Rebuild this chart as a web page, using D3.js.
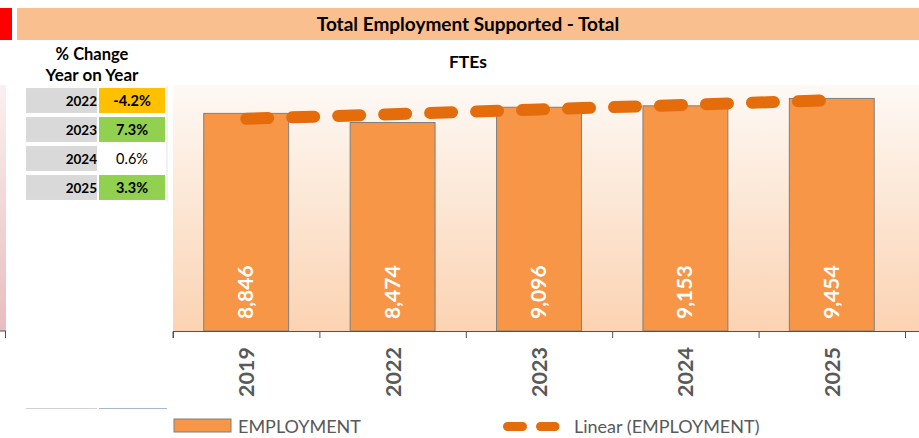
<!DOCTYPE html>
<html>
<head>
<meta charset="utf-8">
<script src="https://cdn.jsdelivr.net/npm/d3@7"></script>
<style>
  body { margin: 0; background: #fff; }
  svg { display: block; font-family: Lato, "Open Sans", sans-serif; }
</style>
</head>
<body>
<div id="chart"></div>
<script>
// Chart data
const years = ["2019", "2022", "2023", "2024", "2025"];
const employment = [8846, 8474, 9096, 9153, 9454];

// % change table
const changeYears = ["2022", "2023", "2024", "2025"];
const changeLabels = ["-4.2%", "7.3%", "0.6%", "3.3%"];
const changeFills = ["#FFC000", "#92D050", "#FFFFFF", "#92D050"];
const changeBold = [true, true, false, true];

const W = 919, H = 438;

const svg = d3.select("#chart")
    .append("svg")
    .attr("width", W)
    .attr("height", H);

const defs = svg.append("defs");

// Plot background gradient
const bg = defs.append("linearGradient")
    .attr("id", "plotBg")
    .attr("x1", 0).attr("y1", 0).attr("x2", 0).attr("y2", 1);
bg.append("stop").attr("offset", "0%").attr("stop-color", "#FEF9F5");
bg.append("stop").attr("offset", "100%").attr("stop-color", "#FBD3B2");

const pink = defs.append("linearGradient")
    .attr("id", "pinkBg")
    .attr("x1", 0).attr("y1", 0).attr("x2", 0).attr("y2", 1);
pink.append("stop").attr("offset", "0%").attr("stop-color", "#FBF0F0");
pink.append("stop").attr("offset", "100%").attr("stop-color", "#E9BDBD");

// Header banner
svg.append("rect")
    .attr("x", 0).attr("y", 8).attr("width", 12).attr("height", 32)
    .attr("fill", "#FF0000");
svg.append("rect")
    .attr("x", 17).attr("y", 8).attr("width", W - 17).attr("height", 32)
    .attr("fill", "#F9BF8F");
svg.append("text")
    .attr("x", 468).attr("y", 31)
    .attr("text-anchor", "middle")
    .attr("font-size", 19).attr("font-weight", "bold")
    .attr("fill", "#000")
    .text("Total Employment Supported - Total");

// Left strip from neighbouring chart
svg.append("rect")
    .attr("x", 0).attr("y", 85).attr("width", 6).attr("height", 246)
    .attr("fill", "url(#pinkBg)");
svg.append("line")
    .attr("x1", 0).attr("x2", 6).attr("y1", 331).attr("y2", 331)
    .attr("stroke", "#44546A");
svg.append("line")
    .attr("x1", 5.5).attr("x2", 5.5).attr("y1", 331).attr("y2", 338)
    .attr("stroke", "#44546A");

// % change table
svg.append("text")
    .attr("x", 92).attr("y", 60)
    .attr("text-anchor", "middle")
    .attr("font-size", 16.5).attr("font-weight", "bold")
    .text("% Change");
svg.append("text")
    .attr("x", 92).attr("y", 81)
    .attr("text-anchor", "middle")
    .attr("font-size", 17).attr("font-weight", "bold")
    .text("Year on Year");

const rowY = d3.scaleBand()
    .domain(changeYears)
    .range([86, 202])
    .paddingInner(0.14)
    .paddingOuter(0.07);

changeYears.forEach((yr, i) => {
    const y = rowY(yr), h = rowY.bandwidth();
    svg.append("rect")
        .attr("x", 26).attr("y", y).attr("width", 71).attr("height", h)
        .attr("fill", "#D9D9D9");
    svg.append("rect")
        .attr("x", 99).attr("y", y).attr("width", 66).attr("height", h)
        .attr("fill", changeFills[i]);
    svg.append("text")
        .attr("x", 97).attr("y", y + h / 2 + 5)
        .attr("text-anchor", "end")
        .attr("font-size", 13.5).attr("font-weight", "bold")
        .text(yr);
    svg.append("text")
        .attr("x", 132).attr("y", y + h / 2 + 5)
        .attr("text-anchor", "middle")
        .attr("font-size", 14.5)
        .attr("font-weight", changeBold[i] ? "bold" : "normal")
        .text(changeLabels[i]);
});
svg.append("line")
    .attr("x1", 167).attr("x2", 167).attr("y1", 86).attr("y2", 202)
    .attr("stroke", "#E4E4E4");
svg.append("line")
    .attr("x1", 26).attr("x2", 97).attr("y1", 408.5).attr("y2", 408.5)
    .attr("stroke", "#D0D0D0");
svg.append("line")
    .attr("x1", 99).attr("x2", 167).attr("y1", 408.5).attr("y2", 408.5)
    .attr("stroke", "#A9B8D0");

// Main chart
const plot = { left: 173, right: 905, top: 85, bottom: 331 };

svg.append("rect")
    .attr("x", plot.left).attr("y", plot.top)
    .attr("width", W - plot.left).attr("height", plot.bottom - plot.top)
    .attr("fill", "url(#plotBg)");

svg.append("text")
    .attr("x", 468).attr("y", 68)
    .attr("text-anchor", "middle")
    .attr("font-size", 17.5).attr("font-weight", "bold")
    .text("FTEs");

const x = d3.scaleBand()
    .domain(years)
    .range([plot.left, plot.right])
    .paddingInner(0.42)
    .paddingOuter(0.21);

const y = d3.scaleLinear()
    .domain([0, 10000])
    .range([plot.bottom, plot.top]);

// Bars
svg.selectAll(".bar")
    .data(years)
    .enter()
    .append("rect")
    .attr("class", "bar")
    .attr("x", d => x(d))
    .attr("y", (d, i) => y(employment[i]))
    .attr("width", x.bandwidth())
    .attr("height", (d, i) => plot.bottom - y(employment[i]))
    .attr("fill", "#F79646")
    .attr("stroke", "#7F7F7F")
    .attr("stroke-width", 1);

// Value labels
svg.selectAll(".val")
    .data(years)
    .enter()
    .append("text")
    .attr("class", "val")
    .attr("transform", d => `translate(${x(d) + x.bandwidth() / 2 + 7},319) rotate(-90)`)
    .attr("font-size", 21).attr("font-weight", "bold")
    .attr("fill", "#fff")
    .text((d, i) => d3.format(",")(employment[i]));

// Linear trendline (least squares over category index)
const idx = employment.map((v, i) => i + 1);
const mx = d3.mean(idx), my = d3.mean(employment);
const slope = d3.sum(idx, (xi, i) => (xi - mx) * (employment[i] - my)) /
              d3.sum(idx, xi => (xi - mx) * (xi - mx));
const icpt = my - slope * mx;
const trend = years.map((d, i) => ({ yr: d, v: icpt + slope * (i + 1) }));

svg.append("path")
    .datum(trend)
    .attr("fill", "none")
    .attr("stroke", "#E46C0A")
    .attr("stroke-width", 12)
    .attr("stroke-linecap", "round")
    .attr("stroke-dasharray", "22,24")
    .attr("d", d3.line()
        .x(d => x(d.yr) + x.bandwidth() / 2)
        .y(d => y(d.v)));

// X axis
const xAxis = svg.append("g")
    .attr("transform", `translate(0,${plot.bottom})`)
    .call(d3.axisBottom(d3.scaleLinear().domain([0, years.length]).range([plot.left, plot.right]))
        .ticks(years.length).tickSize(7).tickFormat(""));
xAxis.select(".domain").attr("stroke", "#44546A").attr("d", `M${plot.left},0.5V7M${plot.left},0.5H${W}`);
xAxis.selectAll(".tick line").attr("stroke", "#44546A");

svg.selectAll(".xlab")
    .data(years)
    .enter()
    .append("text")
    .attr("class", "xlab")
    .attr("transform", d => `translate(${x(d) + x.bandwidth() / 2 + 8},347) rotate(-90)`)
    .attr("text-anchor", "end")
    .attr("font-size", 21.5).attr("font-weight", "bold")
    .attr("fill", "#595959")
    .text(d => d);

// Legend
svg.append("rect")
    .attr("x", 174).attr("y", 419).attr("width", 57).attr("height", 13)
    .attr("fill", "#F79646").attr("stroke", "#7F7F7F");
svg.append("text")
    .attr("x", 238).attr("y", 433)
    .attr("font-size", 18).attr("fill", "#595959")
    .text("EMPLOYMENT");
svg.append("line")
    .attr("x1", 507.5).attr("x2", 555).attr("y1", 426.5).attr("y2", 426.5)
    .attr("stroke", "#E46C0A").attr("stroke-width", 9)
    .attr("stroke-linecap", "round").attr("stroke-dasharray", "15,18");
svg.append("text")
    .attr("x", 574).attr("y", 433)
    .attr("font-size", 18).attr("fill", "#595959")
    .text("Linear (EMPLOYMENT)");
</script>
</body>
</html>
